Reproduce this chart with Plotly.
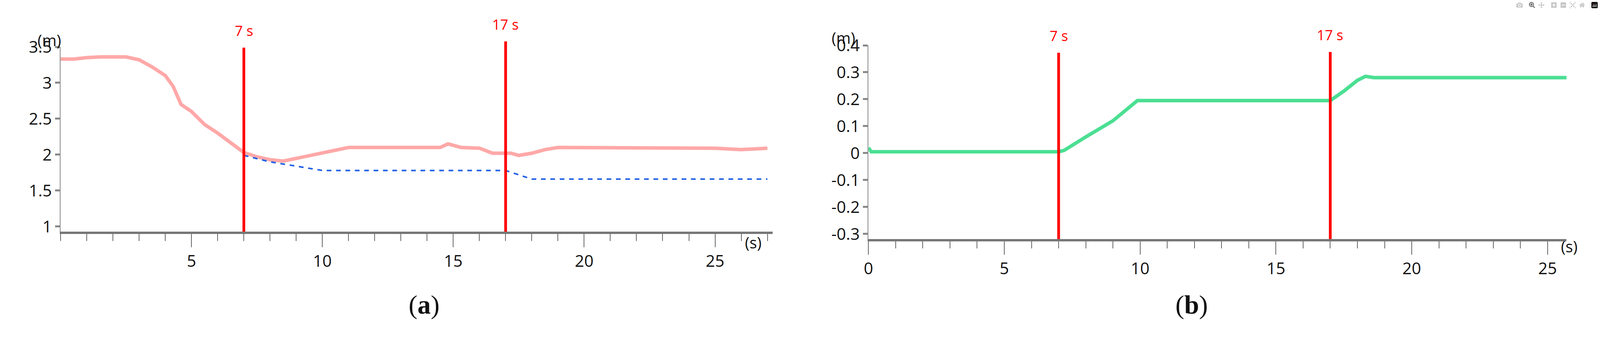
import plotly.graph_objects as go

W, H = 4357, 873

# Panel (a)
a_t = [0, 0.5, 1, 1.5, 2.5, 3, 3.5, 4, 4.3, 4.6, 5, 5.5, 6, 6.5, 7, 7.5, 8, 8.5, 9, 9.5, 10, 10.5, 11,
       14.5, 14.8, 15.3, 16, 16.5, 17.2, 17.5, 18, 18.5, 19, 25, 26, 27]
a_red = [3.33, 3.33, 3.35, 3.36, 3.36, 3.32, 3.22, 3.1, 2.95, 2.7, 2.6, 2.42, 2.3, 2.16, 2.03, 1.97, 1.93,
         1.91, 1.95, 1.99, 2.02, 2.07, 2.1, 2.1, 2.15, 2.1, 2.09, 2.02, 2.02, 1.99, 2.02, 2.07, 2.1, 2.09, 2.07, 2.09]
a_blue_t = [7, 8, 9, 10, 17, 18, 27]
a_blue = [1.99, 1.9, 1.84, 1.78, 1.78, 1.66, 1.66]

# Panel (b)
b_t = [0, 0.1, 7, 7.2, 8, 9, 9.9, 17, 17.5, 18, 18.3, 18.6, 25.7]
b_green = [0.02, 0.005, 0.005, 0.01, 0.06, 0.12, 0.195, 0.195, 0.23, 0.27, 0.285, 0.28, 0.28]

events = [7, 17]
event_labels = ["7 s", "17 s"]
a_xticks = [5, 10, 15, 20, 25]
a_yticks = [1, 1.5, 2, 2.5, 3, 3.5]
a_ylabels = ["1", "1.5", "2", "2.5", "3", "3.5"]
b_xticks = [0, 5, 10, 15, 20, 25]
b_yticks = [-0.3, -0.2, -0.1, 0, 0.1, 0.2, 0.3, 0.4]
b_ylabels = ["-0.3", "-0.2", "-0.1", "0", "0.1", "0.2", "0.3", "0.4"]

def px(x): return x / W
def py(y): return 1 - y / H

fig = go.Figure()
fig.add_trace(go.Scatter(x=a_t, y=a_red, mode="lines", line=dict(color="rgba(255,110,110,0.6)", width=9),
                         xaxis="x", yaxis="y"))
fig.add_trace(go.Scatter(x=a_blue_t, y=a_blue, mode="lines", line=dict(color="#1f5fe6", width=4, dash="dash"),
                         xaxis="x", yaxis="y"))
fig.add_trace(go.Scatter(x=b_t, y=b_green, mode="lines", line=dict(color="rgba(30,215,120,0.8)", width=9),
                         xaxis="x2", yaxis="y2"))

font = dict(family="Open Sans, Noto Sans", size=42, color="#111")
xcommon = dict(showgrid=False, zeroline=False, showline=True, linecolor="#777", linewidth=6,
               ticks="outside", ticklen=34, tickwidth=2, tickcolor="#666", tickfont=font,
               minor=dict(dtick=1, ticks="outside", ticklen=18, tickwidth=2, tickcolor="#666"))
ycommon = dict(showgrid=False, zeroline=False, showline=True, linecolor="#888", linewidth=2,
               ticks="outside", ticklen=12, tickwidth=5, tickcolor="#888", tickfont=font)

fig.update_layout(
    autosize=True, margin=dict(l=0, r=0, t=0, b=0, autoexpand=False), showlegend=False,
    plot_bgcolor="white", paper_bgcolor="white",
    xaxis=dict(domain=[px(165), px(2104)], range=[0, 27.2], tickvals=a_xticks, anchor="y", **xcommon),
    yaxis=dict(domain=[py(593), py(120)], range=[0.929, 3.5], tickvals=a_yticks, ticktext=a_ylabels,
               anchor="x", **ycommon),
    xaxis2=dict(domain=[px(2365), px(4266)], range=[0, 25.7], tickvals=b_xticks, anchor="y2", **xcommon),
    yaxis2=dict(domain=[py(612), py(116)], range=[-0.319, 0.4], tickvals=b_yticks, ticktext=b_ylabels,
                anchor="x2", **ycommon),
)

shapes = []
anns = []
tops_a = [py(122), py(106)]
tops_b = [py(135), py(133)]
for ev, lab, ta, tb in zip(events, event_labels, tops_a, tops_b):
    shapes.append(dict(type="line", xref="x", yref="paper", x0=ev, x1=ev, y0=py(593), y1=ta,
                       line=dict(color="red", width=7)))
    shapes.append(dict(type="line", xref="x2", yref="paper", x0=ev, x1=ev, y0=py(612), y1=tb,
                       line=dict(color="red", width=7)))
    anns.append(dict(x=ev, y=ta + 0.02, xref="x", yref="paper", text=lab, showarrow=False, yanchor="bottom",
                     font=dict(family="Open Sans, Noto Sans", size=36, color="red")))
    anns.append(dict(x=ev, y=tb + 0.02, xref="x2", yref="paper", text=lab, showarrow=False, yanchor="bottom",
                     font=dict(family="Open Sans, Noto Sans", size=36, color="red")))

for xx, yy, t in [(100, 73, "(m)"), (2297, 67, "(m)"), (2051, 650, "(s)"), (4299, 660, "(s)")]:
    anns.append(dict(x=px(xx), y=py(yy), xref="paper", yref="paper", text=t, showarrow=False,
                     font=dict(family="Open Sans, Noto Sans", size=40, color="#111")))
for xx, t in [(1110, "(<b>a</b>)"), (3291, "(<b>b</b>)")]:
    anns.append(dict(x=px(xx), y=py(820), xref="paper", yref="paper", text=t, showarrow=False,
                     font=dict(family="Liberation Serif, DejaVu Serif", size=68, color="#111")))

fig.update_layout(shapes=shapes, annotations=anns)
fig.write_html("out.html", default_width="100vw", default_height="100vh")

with open("out.html", encoding="utf-8") as f:
    html = f.read()
html = html.replace("<head>", "<head><style>html,body{margin:0;padding:0;overflow:hidden;}</style>", 1)
with open("out.html", "w", encoding="utf-8") as f:
    f.write(html)
